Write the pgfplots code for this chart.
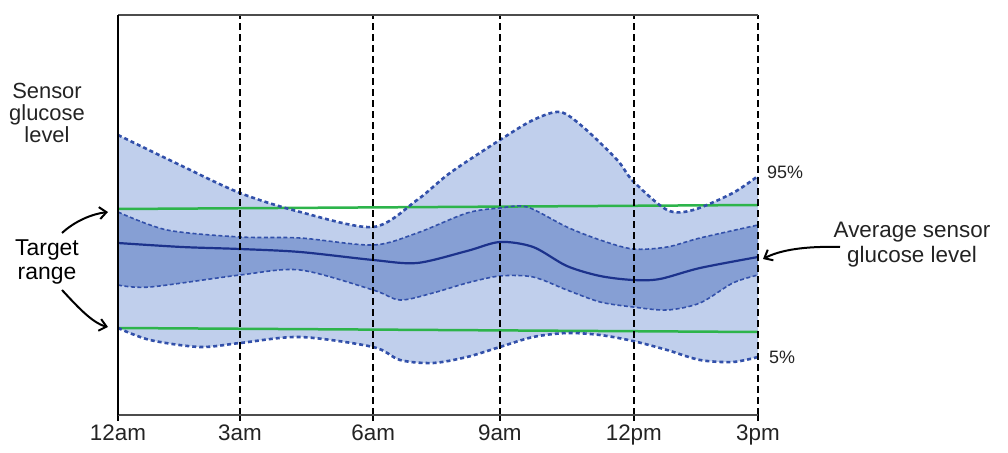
\documentclass[border=0pt]{standalone}
\usepackage{pgfplots}
\pgfplotsset{compat=1.18}
\usepgfplotslibrary{fillbetween}
\usetikzlibrary{arrows.meta}
\usepackage{fontspec}
\setmainfont{Liberation Sans}
\definecolor{outerband}{RGB}{192,207,236}
\definecolor{innerband}{RGB}{134,159,212}
\definecolor{dashblue}{RGB}{50,80,170}
\definecolor{medblue}{RGB}{28,50,140}
\definecolor{tgreen}{RGB}{45,180,75}
\definecolor{txt}{RGB}{35,35,35}
\begin{document}
\begin{tikzpicture}
\begin{axis}[
  at={(118bp,38bp)}, anchor=south west,
  scale only axis, width=640bp, height=400bp,
  xmin=0, xmax=15, ymin=0, ymax=400,
  separate axis lines,
  axis y line=left, axis x line=box,
  y axis line style={line width=2.6bp, black, -},
  x axis line style={line width=2bp, black!70, -},
  ytick=\empty,
  xtick={0,2.86,5.98,8.95,12.09,15},
  xticklabels={12am,3am,6am,9am,12pm,3pm},
  xtick pos=bottom, tick align=outside,
  major tick length=6bp,
  tick style={black, line width=1.5bp},
  xticklabel style={font=\fontsize{22.5}{24}\selectfont, text=txt},
  xmajorgrids,
  grid style={black, line width=1.6bp, dash pattern=on 7bp off 4bp},
  axis on top,
]
% target range lines
\addplot[tgreen, line width=2.5bp] coordinates {(0,206) (15,210)};
\addplot[tgreen, line width=2.5bp] coordinates {(0,87) (15,83)};
% 95th percentile
\addplot[name path=p95, smooth, dashblue, line width=2.6bp, dash pattern=on 4bp off 3bp] coordinates {
(0,280) (1.45,250) (2.86,222) (4.27,203) (5.98,188) (7.01,215) (7.78,242) (8.95,275) (9.73,295) (10.36,303) (10.9,288) (11.7,255) (12.07,234) (12.87,205) (13.48,205) (14.41,222) (15,239)};
% 5th percentile
\addplot[name path=p5, smooth, dashblue, line width=2.6bp, dash pattern=on 4bp off 3bp] coordinates {
(0,87) (0.75,75) (1.92,68) (2.86,72) (4.27,78) (5.98,68) (6.61,55) (7.38,52) (8.18,58) (8.95,68) (9.73,78) (10.52,82) (11.3,80) (12.07,74) (12.87,65) (13.64,55) (14.41,53) (15,58)};
% 75th percentile
\addplot[name path=p75, smooth, dashblue, line width=1.6bp, dash pattern=on 4bp off 2.5bp] coordinates {
(0,203) (1.15,185) (2.86,178) (4.27,177) (5.98,170) (7.01,182) (8.18,202) (8.95,207) (9.59,208) (10.52,188) (11.3,175) (12.07,166) (12.87,168) (13.64,177) (15,190)};
% 25th percentile
\addplot[name path=p25, smooth, dashblue, line width=1.6bp, dash pattern=on 4bp off 2.5bp] coordinates {
(0,130) (0.75,128) (2.86,140) (4.27,145) (5.98,125) (6.61,115) (7.38,122) (8.18,132) (8.95,139) (9.73,138) (10.52,125) (11.3,113) (12.07,108) (12.87,105) (13.64,112) (14.41,132) (15,140)};
% median
\addplot[smooth, medblue, line width=2.2bp] coordinates {
(0,172) (1.5,168) (2.86,166) (4.27,163) (5.98,155) (7.01,152) (8.18,164) (8.95,173) (9.73,168) (10.52,149) (11.3,139) (12.07,135) (12.7,136) (13.64,147) (15,158)};
\addplot[outerband] fill between[of=p95 and p5];
\addplot[innerband] fill between[of=p75 and p25];
\end{axis}
% annotations
\node[align=center, text=txt, font=\fontsize{22}{22}\selectfont] at (47bp,340bp) {Sensor\\glucose\\level};
\node[align=center, text=black, font=\fontsize{23}{24}\selectfont] at (47bp,191bp) {Target\\range};
\node[align=center, text=txt, font=\fontsize{22.5}{25}\selectfont] at (912bp,208bp) {Average sensor\\glucose level};
\node[text=txt, font=\fontsize{18}{20}\selectfont] at (785bp,281bp) {95\%};
\node[text=txt, font=\fontsize{18}{20}\selectfont] at (782bp,96bp) {5\%};
\draw[line width=2bp, -{Straight Barb[length=7bp,width=12bp]}] (62bp,220bp) .. controls (75bp,232bp) and (92bp,239bp) .. (108bp,241bp);
\draw[line width=2bp, -{Straight Barb[length=7bp,width=12bp]}] (62bp,163bp) .. controls (76bp,148bp) and (92bp,130bp) .. (108bp,126bp);
\draw[line width=2bp, -{Straight Barb[length=7bp,width=12bp]}] (840bp,206bp) .. controls (805bp,207bp) and (780bp,203bp) .. (763bp,194bp);
\pgfresetboundingbox
\useasboundingbox (0,0) rectangle (1008bp,453bp);
\end{tikzpicture}
\end{document}
